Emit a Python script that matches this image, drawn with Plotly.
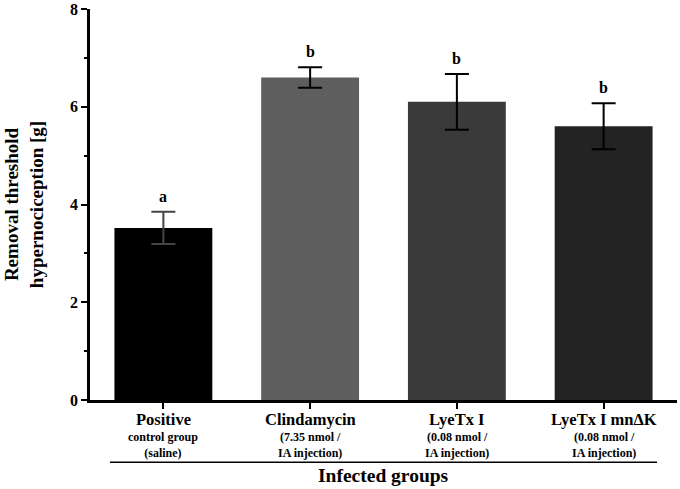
import plotly.graph_objects as go

groups = ["Positive", "Clindamycin", "LyeTx I", "LyeTx I mnΔK"]
sublabels = ["control group<br>(saline)", "(7.35 nmol /<br>IA injection)",
             "(0.08 nmol /<br>IA injection)", "(0.08 nmol /<br>IA injection)"]
means = [3.52, 6.60, 6.10, 5.60]
errors = [0.33, 0.21, 0.57, 0.47]
letters = ["a", "b", "b", "b"]
colors = ["#000000", "#5e5e5e", "#3a3a3a", "#232323"]
err_colors = ["#444444", "#000000", "#000000", "#000000"]
y_ticks = [0, 2, 4, 6, 8]

FONT = "Liberation Serif"
xs = list(range(len(groups)))

fig = go.Figure()
for i in xs:
    fig.add_trace(go.Bar(
        x=[i], y=[means[i]], width=0.667,
        marker=dict(color=colors[i], line=dict(width=0)),
        error_y=dict(type="data", array=[errors[i]], visible=True,
                     color=err_colors[i], thickness=2, width=12),
        showlegend=False, hoverinfo="skip",
    ))

for i in xs:
    fig.add_annotation(x=i, y=means[i] + errors[i], xref="x", yref="y",
                       text=f"<b>{letters[i]}</b>", showarrow=False,
                       yanchor="bottom", yshift=5,
                       font=dict(family=FONT, size=16, color="black"))
    fig.add_annotation(x=i, y=-0.051, xref="x", yref="paper",
                       text=f"<b>{groups[i]}</b>", showarrow=False,
                       yanchor="middle", font=dict(family=FONT, size=16.5, color="black"))
    fig.add_annotation(x=i, y=-0.114, xref="x", yref="paper",
                       text=f"<b>{sublabels[i]}</b>", showarrow=False,
                       yanchor="middle", font=dict(family=FONT, size=12, color="black"))

fig.add_annotation(x=0.5, y=-0.194, xref="paper", yref="paper",
                   text="<b>Infected groups</b>", showarrow=False, yanchor="middle",
                   font=dict(family=FONT, size=19.5, color="black"))
fig.add_shape(type="line", xref="paper", yref="paper", x0=0.034, x1=0.966,
              y0=-0.159, y1=-0.159, line=dict(color="black", width=1.5))

fig.update_layout(
    width=680, height=489,
    margin=dict(l=90, r=3, t=9, b=89),
    plot_bgcolor="white", paper_bgcolor="white",
    xaxis=dict(range=[-0.5, 3.5], tickmode="array", tickvals=xs, ticktext=[""] * 4,
               showline=True, linecolor="black", linewidth=2.5, ticks="outside",
               ticklen=6, tickwidth=2, tickcolor="black", showgrid=False, zeroline=False,
               automargin=False),
    yaxis=dict(range=[0, 8], tickmode="array", tickvals=y_ticks,
               ticktext=[f"<b>{v}</b>" for v in y_ticks],
               showline=True, linecolor="black", linewidth=2.5, ticks="outside",
               ticklen=6, tickwidth=2, tickcolor="black", showgrid=False, zeroline=False,
               tickfont=dict(family=FONT, size=16, color="black"),
               automargin=False,
               minor=dict(tickvals=[1, 3, 5, 7], ticks="outside", ticklen=3,
                          tickwidth=2, tickcolor="black"),
               title=dict(text="<b>Removal threshold<br>hypernociception [g]</b>",
                          font=dict(family=FONT, size=19, color="black"), standoff=22)),
)

fig.write_html("out.html", config={"displayModeBar": False},
               post_script="document.body.style.margin='0';document.body.style.overflow='hidden';")
